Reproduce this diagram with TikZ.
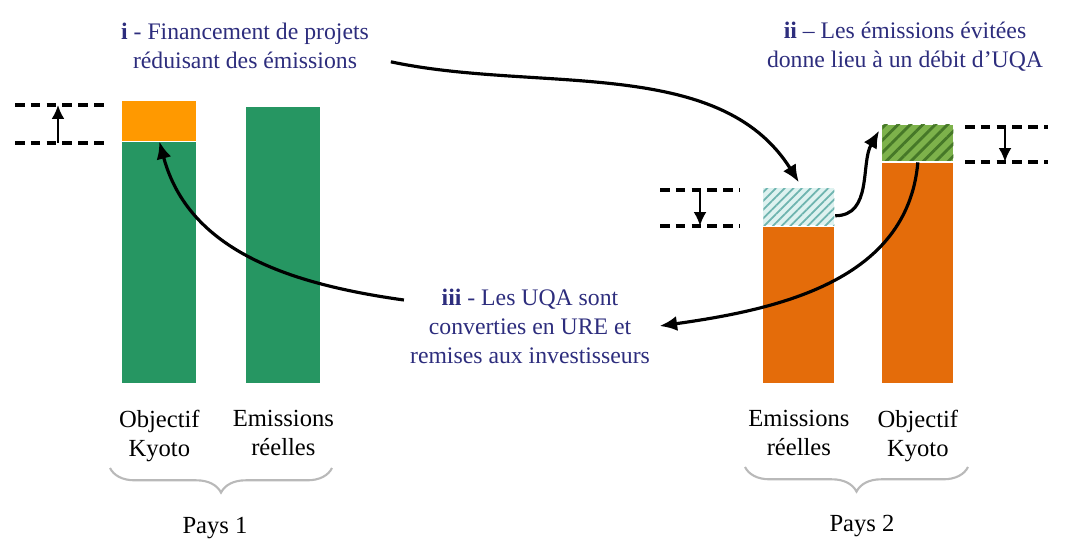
\documentclass[tikz,border=0pt]{standalone}
\usepackage{fontspec}
\setmainfont{Liberation Serif}
\usepackage{tikz}
\usetikzlibrary{arrows.meta,positioning,patterns.meta,decorations.pathreplacing}
\definecolor{kgreen}{RGB}{38,150,98}
\definecolor{kyellow}{RGB}{255,153,0}
\definecolor{korange}{RGB}{228,108,10}
\definecolor{tealbg}{RGB}{222,242,240}
\definecolor{tealline}{RGB}{110,180,175}
\definecolor{olivebg}{RGB}{125,178,75}
\definecolor{oliveline}{RGB}{70,120,40}
\definecolor{notecol}{RGB}{45,45,125}
\tikzset{%
  >={Latex[width=3mm,length=3.5mm]},
      bar/.style = {rectangle, draw=none, inner sep=0pt, minimum width=1.48cm},
     barR/.style = {bar, minimum width=1.42cm, fill=korange},
   hatchT/.style = {bar, minimum width=1.42cm, preaction={fill=tealbg},
                    pattern={Lines[angle=45,distance=3.5pt,line width=1pt]},
                    pattern color=tealline},
   hatchG/.style = {bar, minimum width=1.42cm, preaction={fill=olivebg},
                    pattern={Lines[angle=45,distance=5pt,line width=1.6pt]},
                    pattern color=oliveline},
     note/.style = {font=\fontsize{13.5}{16.5}\selectfont, text=notecol, align=center},
  barname/.style = {font=\fontsize{14}{16.5}\selectfont, align=center},
    level/.style = {line width=1.8pt, dash pattern=on 5.5pt off 3.5pt},
 levarrow/.style = {->, >={Latex[width=2.6mm,length=2.8mm]}, line width=1.4pt},
     link/.style = {->, line width=1.8pt},
     pays/.style = {decorate, decoration={brace, amplitude=14pt, mirror},
                    draw=gray!55, line width=1.2pt},
}
\begin{document}
\begin{tikzpicture}[x=0.02cm, y=0.02cm]
  \useasboundingbox (0,0) rectangle (1067,538);

  \node (kyoto1) [bar, fill=kgreen, anchor=south west, minimum height=4.82cm] at (122,155) {};
  \node (gap1)   [bar, fill=kyellow, above=0pt of kyoto1, minimum height=0.8cm] {};
  \node (emis1)  [bar, fill=kgreen, anchor=south west, minimum height=5.52cm] at (246,155) {};
  \node (emis2)  [barR, anchor=south west, minimum height=3.12cm] at (763,155) {};
  \node (cut2)   [hatchT, above=0pt of emis2, minimum height=0.74cm] {};
  \node (kyoto2) [barR, anchor=south west, minimum height=4.4cm] at (882,155) {};
  \node (debit2) [hatchG, above=0pt of kyoto2, minimum height=0.72cm] {};

  \node (labK1) [barname, below=0.42cm of kyoto1] {Objectif\\Kyoto};
  \node (labE1) [barname, below=0.42cm of emis1]  {Emissions\\réelles};
  \node (labE2) [barname, below=0.42cm of emis2]  {Emissions\\réelles};
  \node (labK2) [barname, below=0.42cm of kyoto2] {Objectif\\Kyoto};

  \draw[level] (15,433) -- (107,433);
  \draw[level] (15,395) -- (107,395);
  \draw[level] (660,348) -- (740,348);
  \draw[level] (660,312) -- (740,312);
  \draw[level] (965,411) -- (1048,411);
  \draw[level] (965,376) -- (1048,376);
  \coordinate (lvA1) at (58,395);   \coordinate (lvA2) at (58,433);
  \coordinate (lvB1) at (700,348);  \coordinate (lvB2) at (700,312);
  \coordinate (lvC1) at (1005,411); \coordinate (lvC2) at (1005,376);
  \draw[levarrow] (lvA1) -- (lvA2);
  \draw[levarrow] (lvB1) -- (lvB2);
  \draw[levarrow] (lvC1) -- (lvC2);

  \node (noteI)   [note] at (245,492) {\textbf{i} - Financement de projets\\réduisant des émissions};
  \node (noteII)  [note] at (905,491) {\textbf{ii} – Les émissions évitées\\donne lieu à un débit d’UQA};
  \node (noteIII) [note] at (530,212) {\textbf{iii} - Les UQA sont\\converties en URE et\\remises aux investisseurs};

  \draw[link] ([xshift=9pt,yshift=-9pt]noteI.east) to[out=-12, in=122, looseness=0.9] ([yshift=3pt]cut2.north);
  \draw[link] ([yshift=-5pt]cut2.east) to[out=0, in=-120] ([xshift=-1pt,yshift=-4pt]debit2.north west);
  \draw[link] (debit2.south) to[out=-95, in=8] ([xshift=2pt]noteIII.east);
  \draw[link] ([yshift=-10pt]noteIII.north west) to[out=172, in=-75] (kyoto1.north);

  \draw[pays] (110,70) -- (332,70);
  \draw[pays] (745,71) -- (968,71);
  \node (pays1) [barname] at (215,10) {Pays 1};
  \node (pays2) [barname] at (862,12) {Pays 2};
\end{tikzpicture}
\end{document}
